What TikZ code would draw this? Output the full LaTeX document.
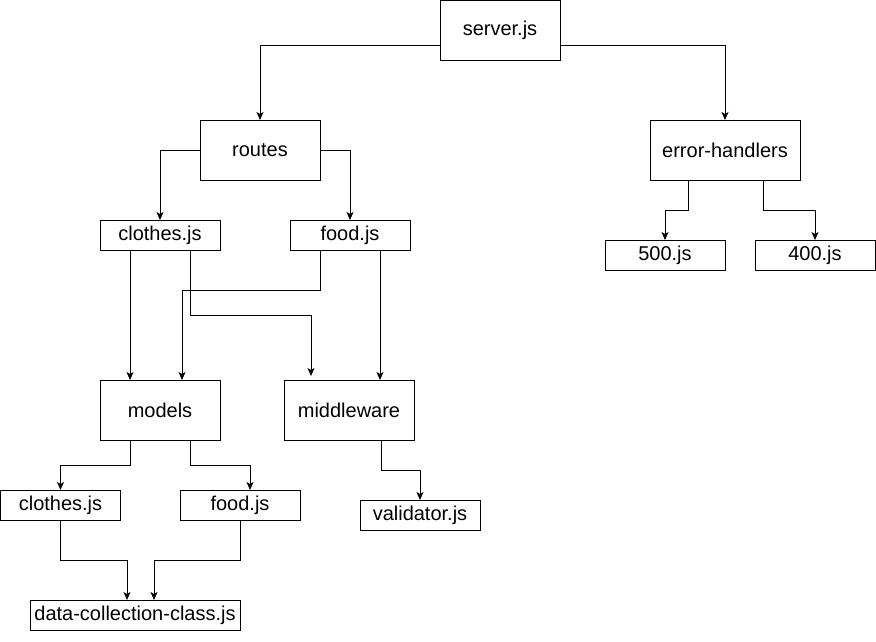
\documentclass[tikz,border=0pt]{standalone}
\usepackage{fontspec}
\setmainfont{Liberation Sans}
\usetikzlibrary{arrows.meta}
\begin{document}
\begin{tikzpicture}[x=1pt,y=1pt,
  box/.style={draw=black,line width=1pt,fill=white,inner sep=0pt,outer sep=0pt,
    font=\fontsize{20}{22}\selectfont},
  big/.style={box,minimum width=120pt,minimum height=60pt},
  small/.style={box,minimum width=120pt,minimum height=30pt},
  arr/.style={draw=black,line width=1pt,-{Stealth[length=8pt,width=7pt,inset=2pt]}}]
\useasboundingbox (0,0) rectangle (876,-641);
\node[big] (server) at (500,-30.5) {server.js};
\node[big] (routes) at (260,-150) {routes};
\node[big,minimum width=150pt] (errh) at (725,-150) {error-handlers};
\node[small] (c1) at (160,-235) {clothes.js};
\node[small] (f1) at (350,-235) {food.js};
\node[small] (e500) at (665,-255) {500.js};
\node[small] (e400) at (815,-255) {400.js};
\node[big] (models) at (160,-410) {models};
\node[big,minimum width=130pt] (mw) at (349,-410) {middleware};
\node[small] (cm) at (60.5,-505) {clothes.js};
\node[small] (fm) at (240,-505) {food.js};
\node[small] (val) at (420,-515) {validator.js};
\node[small,minimum width=210pt] (data) at (135,-615) {data-collection-class.js};

\draw[arr] ([yshift=-15pt]server.west) -| (routes.north);
\draw[arr] ([yshift=-15pt]server.east) -| (errh.north);
\draw[arr] (routes.west) -| (c1.north);
\draw[arr] (routes.east) -| (f1.north);
\draw[arr] ([xshift=-37pt]errh.south) -- ++(0,-30) -| (e500.north);
\draw[arr] ([xshift=38pt]errh.south) -- ++(0,-30) -| (e400.north);
\draw[arr] ([xshift=-30pt]c1.south) -- ([xshift=-30pt]models.north);
\draw[arr] ([xshift=30pt]c1.south) -- ++(0,-65) -| ([xshift=-38pt,yshift=4pt]mw.north);
\draw[arr] ([xshift=-30pt]f1.south) -- ++(0,-40) -| ([xshift=22pt]models.north);
\draw[arr] ([xshift=30pt]f1.south) -- ([xshift=31pt]mw.north);
\draw[arr] ([xshift=-30pt]models.south) -- ++(0,-25) -| (cm.north);
\draw[arr] ([xshift=30pt]models.south) -- ++(0,-25) -| ([xshift=10pt]fm.north);
\draw[arr] ([xshift=32pt]mw.south) -- ++(0,-30) -| (val.north);
\draw[arr] (cm.south) -- ++(0,-40) -| ([xshift=-8pt]data.north);
\draw[arr] (fm.south) -- ++(0,-40) -| ([xshift=19pt]data.north);
\end{tikzpicture}
\end{document}
